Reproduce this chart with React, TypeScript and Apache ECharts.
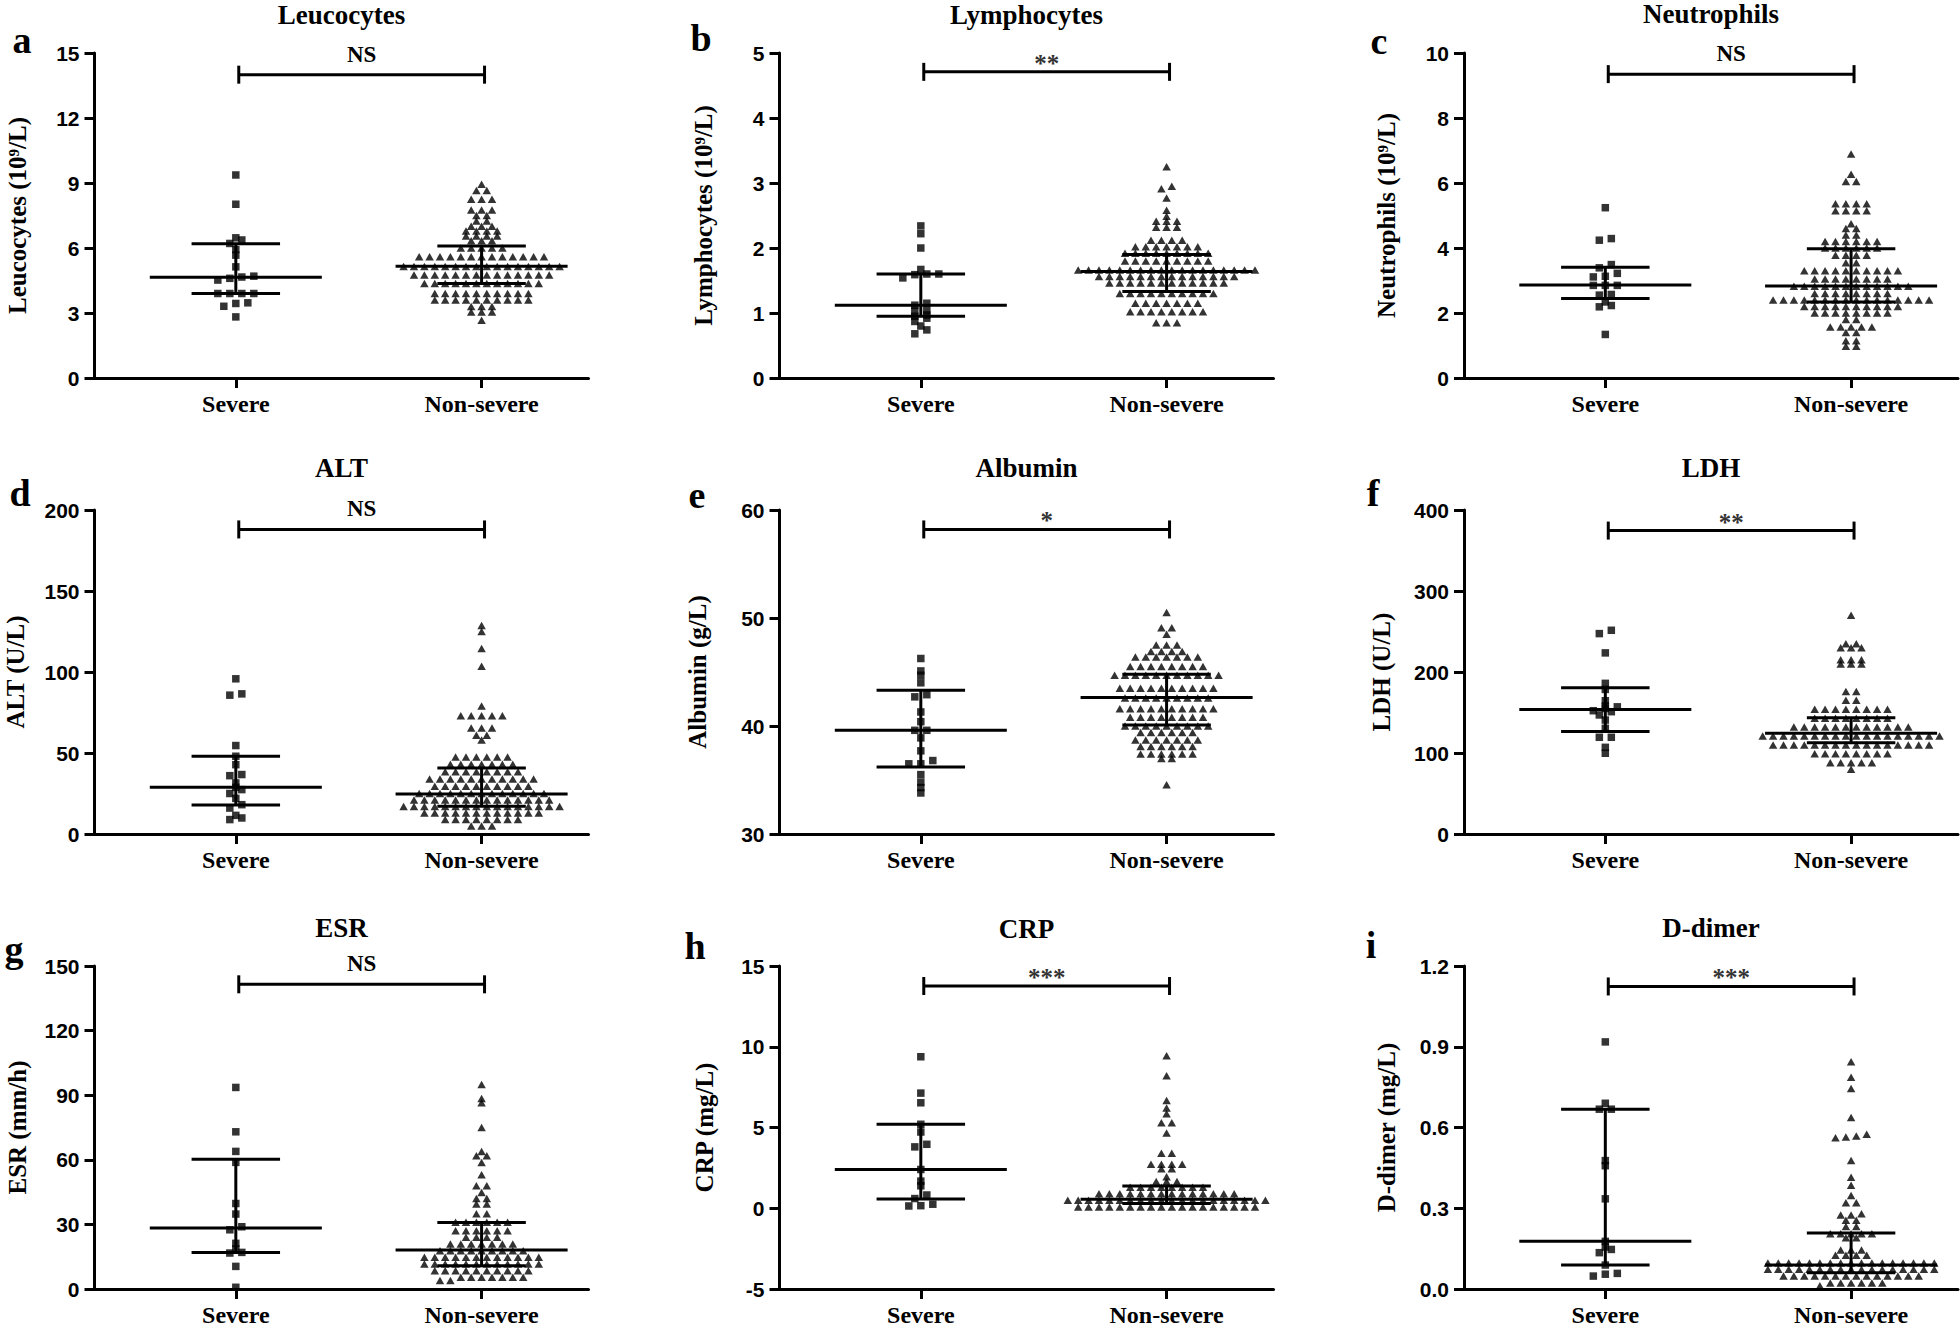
import React, { useEffect, useRef } from "react";
import * as echarts from "echarts";

// ---------- labels ----------
const categories = ["Severe", "Non-severe"];
const panelLetters = ["a", "b", "c", "d", "e", "f", "g", "h", "i"];
const panelTitles = ["Leucocytes", "Lymphocytes", "Neutrophils", "ALT", "Albumin", "LDH", "ESR", "CRP", "D-dimer"];
const axisNames = [
  "Leucocytes (10⁹/L)", "Lymphocytes (10⁹/L)", "Neutrophils (10⁹/L)",
  "ALT (U/L)", "Albumin (g/L)", "LDH (U/L)",
  "ESR (mm/h)", "CRP (mg/L)", "D-dimer (mg/L)",
];
const yMins = [0, 0, 0, 0, 30, 0, 0, -5, 0];
const yMaxs = [15, 5, 10, 200, 60, 400, 150, 15, 1.2];
const yIntervals = [3, 1, 2, 50, 10, 100, 30, 5, 0.3];
const yDecimals = [0, 0, 0, 0, 0, 0, 0, 0, 1];
const significance = ["NS", "**", "NS", "NS", "*", "**", "NS", "***", "***"];
const bracketLevels = [14, 4.71, 9.35, 188, 58.2, 374.6, 141.5, 13.76, 1.124];

// ---------- data: Severe ----------
const leucSevere = [9.37, 8.02, 6.47, 6.37, 6.21, 5.93, 5.67, 5.13, 4.7, 4.66, 4.6, 4.52, 3.9, 3.9, 3.9, 3.9, 3.47, 3.44, 3.31, 2.82];
const lymSevere = [2.34, 2.22, 2.0, 1.67, 1.6, 1.6, 1.59, 1.54, 1.15, 1.12, 1.04, 1.03, 0.97, 0.95, 0.92, 0.87, 0.8, 0.74, 0.68];
const neuSevere = [5.24, 4.29, 4.24, 3.49, 3.39, 3.22, 3.13, 3.11, 2.85, 2.85, 2.85, 2.57, 2.55, 2.34, 2.23, 2.19, 1.34];
const altSevere = [95.8, 86.5, 85.7, 54.6, 48, 42.8, 36.7, 36, 31.5, 28.8, 27.4, 25, 22, 18.1, 16, 11.5, 9.9, 8.9];
const albSevere = [46.25, 45.1, 44.7, 44.0, 42.9, 42.7, 41.3, 40.4, 39.6, 39.6, 38.9, 37.7, 36.8, 36.5, 36.5, 35.5, 34.8, 34.3, 33.8];
const ldhSevere = [251.5, 247.4, 223.6, 186, 178.5, 164.5, 158, 157, 155, 152.2, 151, 147, 140.7, 130.5, 119.4, 119.4, 107, 99.7];
const esrSevere = [93.6, 73, 63.9, 58.8, 39.7, 34.8, 28.9, 27.5, 21.2, 18.6, 17, 16.7, 10.5, 0.8];
const crpSevere = [9.38, 7.13, 6.53, 5.2, 4.72, 3.96, 3.8, 2.4, 1.68, 1.39, 0.82, 0.6, 0.25, 0.16, 0.14];
const ddSevere = [0.918, 0.69, 0.668, 0.668, 0.477, 0.458, 0.335, 0.177, 0.156, 0.147, 0.135, 0.089, 0.058, 0.055, 0.048];

// ---------- data: Non-severe ----------
const leucNonSevere = [
  8.94, 8.65, 8.65, 8.25, 8.25, 8.25, 7.75, 7.75, 7.75, 7.5, 7.5, 7.25, 7.25, 7.0, 7.0, 7.0,
  6.78, 6.78, 6.78, 6.78, 6.55, 6.55, 6.55, 6.55, 6.33, 6.33, 6.33, 6.0, 6.0, 6.0, 6.0, 6.0,
  5.6, 5.6, 5.6, 5.6, 5.6, 5.6, 5.6, 5.6, 5.6, 5.6, 5.6, 5.6, 5.6,
  5.15, 5.15, 5.15, 5.15, 5.15, 5.15, 5.15, 5.15, 5.15, 5.15, 5.15, 5.15, 5.15, 5.15, 5.15, 5.15,
  4.75, 4.75, 4.75, 4.75, 4.75, 4.75, 4.75, 4.75, 4.75, 4.75, 4.75, 4.75, 4.75, 4.75,
  4.36, 4.36, 4.36, 4.36, 4.36, 4.36, 4.36, 4.36, 4.36, 4.36, 4.36, 4.36,
  3.9, 3.9, 3.9, 3.9, 3.9, 3.9, 3.9, 3.9, 3.9, 3.9,
  3.6, 3.6, 3.6, 3.6, 3.6, 3.6, 3.6, 3.6, 3.6, 3.6,
  3.3, 3.3, 3.3, 3.05, 3.05, 3.05, 2.67,
];
const lymNonSevere = [
  3.25, 2.95, 2.91, 2.77, 2.58, 2.49, 2.41, 2.41, 2.41, 2.32, 2.32, 2.32, 2.12, 2.12, 2.12, 2.12,
  2.02, 2.02, 2.02, 2.02, 2.02, 2.02, 2.02,
  1.92, 1.92, 1.92, 1.92, 1.92, 1.92, 1.92, 1.92, 1.92,
  1.8, 1.8, 1.8, 1.8, 1.8, 1.8, 1.8, 1.8, 1.8,
  1.66, 1.66, 1.66, 1.66, 1.66, 1.66, 1.66, 1.66, 1.66, 1.66, 1.66, 1.66, 1.66, 1.66, 1.66, 1.66, 1.66, 1.66,
  1.56, 1.56, 1.56, 1.56, 1.56, 1.56, 1.56, 1.56, 1.56, 1.56, 1.56, 1.56, 1.56, 1.56,
  1.46, 1.46, 1.46, 1.46, 1.46, 1.46, 1.46, 1.46, 1.46, 1.46, 1.46, 1.46,
  1.3, 1.3, 1.3, 1.3, 1.3, 1.3, 1.3, 1.3, 1.3, 1.3,
  1.15, 1.15, 1.15, 1.15, 1.15, 1.15, 1.15,
  1.02, 1.02, 1.02, 1.02, 1.02, 1.02, 1.02, 1.02,
  0.85, 0.85, 0.85,
];
const neuNonSevere = [
  6.89, 6.27, 6.05, 6.05, 5.36, 5.36, 5.36, 5.36, 5.15, 5.15, 5.15, 5.15, 4.75, 4.6, 4.6, 4.4, 4.4,
  4.2, 4.2, 4.2, 4.2, 4.2, 4.2, 4.0, 4.0, 4.0, 4.0, 4.0, 4.0, 3.78, 3.78, 3.78, 3.78, 3.55, 3.55,
  3.3, 3.3, 3.3, 3.3, 3.3, 3.3, 3.3, 3.3, 3.3, 3.3,
  3.05, 3.05, 3.05, 3.05, 3.05, 3.05, 3.05, 3.05,
  2.82, 2.82, 2.82, 2.82, 2.82, 2.82, 2.82, 2.82, 2.82, 2.82, 2.82, 2.82,
  2.6, 2.6, 2.6, 2.6, 2.6, 2.6, 2.6, 2.6,
  2.4, 2.4, 2.4, 2.4, 2.4, 2.4, 2.4, 2.4, 2.4, 2.4, 2.4, 2.4, 2.4, 2.4, 2.4, 2.4,
  2.2, 2.2, 2.2, 2.2, 2.2, 2.2, 2.2, 2.2, 2.2, 2.2,
  2.0, 2.0, 2.0, 2.0, 2.0, 2.0, 2.0, 2.0,
  1.8, 1.8, 1.57, 1.57, 1.57, 1.57, 1.57, 1.4, 1.4, 1.15, 1.15, 0.98, 0.98,
];
const altNonSevere = [
  128.7, 125, 114.5, 103.6, 79, 73, 73, 73, 73, 73, 65.5, 65.5, 65.5, 61, 61, 58,
  47.5, 47.5, 47.5, 47.5, 47.5, 47.5, 43, 43, 43, 43, 43, 43, 43,
  38.5, 38.5, 38.5, 38.5, 38.5, 38.5, 38.5, 38.5,
  34, 34, 34, 34, 34, 34, 34, 34, 34, 34, 34,
  29.5, 29.5, 29.5, 29.5, 29.5, 29.5, 29.5, 29.5, 29.5, 29.5,
  25, 25, 25, 25, 25, 25, 25, 25, 25, 25, 25, 25, 25,
  21, 21, 21, 21, 21, 21, 21, 21, 21, 21, 21, 21, 21, 21,
  17, 17, 17, 17, 17, 17, 17, 17, 17, 17, 17, 17, 17, 17, 17, 17,
  13, 13, 13, 13, 13, 13, 13, 13, 13, 13, 13, 13,
  9, 9, 9, 9, 9, 9, 9, 9, 5, 5, 5,
];
const albNonSevere = [
  50.5, 49.1, 49.1, 48.5, 47.5, 47.5, 47.5, 46.9, 46.9, 46.9, 46.9,
  46.4, 46.4, 46.4, 46.4, 46.4, 46.4, 46.4,
  45.5, 45.5, 45.5, 45.5, 45.5, 45.5, 45.5, 45.5,
  44.7, 44.7, 44.7, 44.7, 44.7, 44.7, 44.7, 44.7, 44.7, 44.7, 44.7,
  43.5, 43.5, 43.5, 43.5, 43.5, 43.5, 43.5, 43.5, 43.5, 43.5,
  42.6, 42.6, 42.6, 42.6, 42.6, 42.6, 42.6, 42.6, 42.6,
  41.6, 41.6, 41.6, 41.6, 41.6, 41.6, 41.6, 41.6, 41.6, 41.6,
  40.8, 40.8, 40.8, 40.8, 40.8, 40.8, 40.8, 40.8,
  40.0, 40.0, 40.0, 40.0, 40.0, 40.0, 40.0, 40.0, 40.0,
  39.4, 39.4, 39.4, 39.4, 39.4, 39.4,
  38.7, 38.7, 38.7, 38.7, 38.7, 38.7, 38.7,
  38.1, 38.1, 38.1, 38.1, 38.1, 38.1,
  37.4, 37.4, 37.4, 37.4, 37.4, 37.4, 37.0, 37.0, 34.55,
];
const ldhNonSevere = [
  270, 235, 235, 230, 230, 230, 215, 215, 215, 210, 210, 210, 176, 176, 165, 165,
  154, 154, 154, 154, 154, 154, 154, 154,
  143, 143, 143, 143, 143, 143, 143, 143,
  132, 132, 132, 132, 132, 132, 132, 132, 132, 132, 132, 132,
  121, 121, 121, 121, 121, 121, 121, 121, 121, 121, 121, 121, 121, 121, 121, 121, 121, 121,
  110, 110, 110, 110, 110, 110, 110, 110, 110, 110, 110, 110, 110, 110, 110, 110,
  99, 99, 99, 99, 99, 99, 99, 99, 88, 88, 88, 88, 88, 80,
];
const esrNonSevere = [
  95, 88.5, 86.5, 75, 63.9, 61.9, 61.9, 58.8, 53, 48, 48, 44.8, 42, 42, 39.5, 39.5, 35, 35,
  31, 31, 31, 31, 31, 31, 27, 27, 27, 27, 27, 27, 24, 24, 24, 24,
  20.9, 20.9, 20.9, 20.9, 20.9, 20.9, 20.9,
  17.8, 17.8, 17.8, 17.8, 17.8, 17.8, 17.8, 17.8, 17.8,
  14.7, 14.7, 14.7, 14.7, 14.7, 14.7, 14.7, 14.7, 14.7, 14.7, 14.7, 14.7,
  11.6, 11.6, 11.6, 11.6, 11.6, 11.6, 11.6, 11.6, 11.6, 11.6, 11.6, 11.6,
  8.5, 8.5, 8.5, 8.5, 8.5, 8.5, 8.5, 8.5, 8.5, 8.5,
  5.4, 5.4, 5.4, 5.4, 5.4, 5.4, 5.4, 3.9, 3.9,
];
const crpNonSevere = [
  9.45, 8.2, 6.67, 6.2, 5.85, 5.3, 5.3, 4.66, 3.4, 3.4, 2.72, 2.72, 2.72, 2.72, 2.45, 2.45,
  1.95, 1.65, 1.65, 1.65, 1.3, 1.3, 1.3, 1.3, 1.3, 1.3, 1.3, 1.3,
  0.9, 0.9, 0.9, 0.9, 0.9, 0.9, 0.9, 0.9, 0.9, 0.9, 0.9, 0.9, 0.9, 0.9,
  0.5, 0.5, 0.5, 0.5, 0.5, 0.5, 0.5, 0.5, 0.5, 0.5, 0.5, 0.5, 0.5, 0.5, 0.5, 0.5, 0.5, 0.5, 0.5, 0.5,
  0.08, 0.08, 0.08, 0.08, 0.08, 0.08, 0.08, 0.08, 0.08, 0.08, 0.08, 0.08, 0.08, 0.08, 0.08, 0.08, 0.08, 0.08,
];
const ddNonSevere = [
  0.844, 0.787, 0.745, 0.637, 0.575, 0.568, 0.565, 0.562, 0.477, 0.415, 0.385, 0.347, 0.32, 0.32,
  0.28, 0.275, 0.275, 0.255, 0.255, 0.232, 0.232, 0.205, 0.205, 0.205, 0.205, 0.205, 0.19, 0.19,
  0.145, 0.145, 0.145, 0.125, 0.125, 0.125, 0.125,
  0.097, 0.097, 0.097, 0.097, 0.097, 0.097, 0.097, 0.097, 0.097, 0.097, 0.097, 0.097, 0.097, 0.097, 0.097, 0.097, 0.097,
  0.073, 0.073, 0.073, 0.073, 0.073, 0.073, 0.073, 0.073, 0.073, 0.073, 0.073, 0.073, 0.073, 0.073, 0.073, 0.073, 0.073,
  0.048, 0.048, 0.048, 0.048, 0.048, 0.048, 0.048, 0.048, 0.048, 0.048, 0.048, 0.048, 0.048, 0.048,
  0.022, 0.022, 0.022, 0.022, 0.022, 0.022, 0.012,
];

// ---------- median, Q1, Q3 ----------
const severeStats = [
  [4.65, 3.9, 6.2], [1.12, 0.95, 1.6], [2.86, 2.45, 3.41],
  [28.8, 17.9, 48], [39.6, 36.2, 43.3], [153.8, 126.4, 180.5],
  [28.3, 17, 60.2], [2.4, 0.57, 5.2], [0.177, 0.089, 0.668],
];
const nonSevereStats = [
  [5.16, 4.36, 6.09], [1.64, 1.33, 1.9], [2.83, 2.34, 3.98],
  [24.7, 17.1, 40.8], [42.65, 40.1, 44.8], [124.3, 112.8, 143.6],
  [18.1, 10.8, 30.9], [0.55, 0.3, 1.38], [0.089, 0.06, 0.208],
];

const severeSets = [leucSevere, lymSevere, neuSevere, altSevere, albSevere, ldhSevere, esrSevere, crpSevere, ddSevere];
const nonSevereSets = [leucNonSevere, lymNonSevere, neuNonSevere, altNonSevere, albNonSevere, ldhNonSevere, esrNonSevere, crpNonSevere, ddNonSevere];

// ---------- layout ----------
const colLeft = [94.5, 779.5, 1464];
const colWidth = [494, 494, 494];
const rowTop = [53, 510, 966];
const rowHeight = [325, 324, 325];
const X_MIN = 0.425;
const X_MAX = 2.435;
const nameGaps = [65, 64, 65, 67, 70, 70, 65, 63, 65];
const letterPos = [[22, 40], [701, 38], [1379, 41], [20, 493], [697, 495], [1373, 493], [14, 949], [695, 946], [1371, 945]];
const titleY = [15, 15, 14, 468, 468, 468, 928, 929, 928];

const SERIF = '"Liberation Serif", "Times New Roman", Times, serif';
const SANS = '"Liberation Sans", Arial, Helvetica, sans-serif';

// beeswarm: group values into rows (values within tol px) and centre each row
function swarm(vals: number[], center: number, pxPerX: number, pxPerY: number, step: number, tol: number) {
  const sorted = vals.slice().sort((p, q) => p - q);
  const out: number[][] = [];
  let i = 0;
  while (i < sorted.length) {
    const start = sorted[i];
    let j = i;
    while (j < sorted.length && (sorted[j] - start) * pxPerY <= tol) j++;
    const n = j - i;
    for (let k = 0; k < n; k++) {
      const off = (k - (n - 1) / 2) * step;
      out.push([center + off / pxPerX, sorted[i + k]]);
    }
    i = j;
  }
  return out;
}

function statsRender(params: any, api: any) {
  const c = api.value(0);
  const m = api.value(1);
  const lo = api.value(2);
  const hi = api.value(3);
  const seg = (x1: number, y1: number, x2: number, y2: number) => {
    const a = api.coord([x1, y1]);
    const b = api.coord([x2, y2]);
    return { type: "line", shape: { x1: a[0], y1: a[1], x2: b[0], y2: b[1] }, style: { stroke: "#000", lineWidth: 3 } };
  };
  return {
    type: "group",
    children: [
      seg(c - 0.35, m, c + 0.35, m),
      seg(c - 0.18, lo, c + 0.18, lo),
      seg(c - 0.18, hi, c + 0.18, hi),
      seg(c, lo, c, hi),
    ],
  };
}

function makeBracketRender(sig: string) {
  return (params: any, api: any) => {
    const lvl = api.value(1);
    const a = api.coord([1.012, lvl]);
    const b = api.coord([2.012, lvl]);
    const st = { stroke: "#000", lineWidth: 3 };
    const stars = sig.charAt(0) === "*";
    return {
      type: "group",
      children: [
        { type: "line", shape: { x1: a[0], y1: a[1], x2: b[0], y2: b[1] }, style: st },
        { type: "line", shape: { x1: a[0], y1: a[1] - 9, x2: a[0], y2: a[1] + 9 }, style: st },
        { type: "line", shape: { x1: b[0], y1: b[1] - 9, x2: b[0], y2: b[1] + 9 }, style: st },
        {
          type: "text",
          x: (a[0] + b[0]) / 2,
          y: stars ? a[1] + 4 : a[1] - 9,
          style: {
            text: sig,
            fill: stars ? "#333" : "#000",
            font: stars ? `bold 25px ${SERIF}` : `bold 23px ${SERIF}`,
            align: "center",
            verticalAlign: "bottom",
            textAlign: "center",
            textVerticalAlign: "bottom",
          },
        },
      ],
    };
  };
}

function buildOption() {
  const grids: any[] = [];
  const xAxes: any[] = [];
  const yAxes: any[] = [];
  const series: any[] = [];
  const graphics: any[] = [];

  for (let i = 0; i < 9; i++) {
    const col = i % 3;
    const row = Math.floor(i / 3);
    const pxPerX = colWidth[col] / (X_MAX - X_MIN);
    const pxPerY = rowHeight[row] / (yMaxs[i] - yMins[i]);
    grids.push({ left: colLeft[col], top: rowTop[row], width: colWidth[col], height: rowHeight[row] });

    xAxes.push({
      gridIndex: i,
      type: "value",
      min: X_MIN,
      max: X_MAX,
      axisLine: { show: true, onZero: false, lineStyle: { color: "#000", width: 3 } },
      axisTick: { show: true, customValues: [1, 2], length: 10, lineStyle: { color: "#000", width: 3 } },
      axisLabel: {
        show: true,
        customValues: [1, 2],
        formatter: (v: number) => categories[Math.round(v) - 1] || "",
        margin: 14,
        color: "#000",
        fontFamily: SERIF,
        fontWeight: "bold",
        fontSize: 24,
      },
      splitLine: { show: false },
    });

    const dec = yDecimals[i];
    yAxes.push({
      gridIndex: i,
      type: "value",
      min: yMins[i],
      max: yMaxs[i],
      interval: yIntervals[i],
      name: axisNames[i],
      nameLocation: "middle",
      nameGap: nameGaps[i],
      nameRotate: 90,
      nameTextStyle: { fontFamily: SERIF, fontWeight: "bold", fontSize: 25, color: "#000" },
      axisLine: { show: true, onZero: false, lineStyle: { color: "#000", width: 3 } },
      axisTick: { show: true, length: 10, lineStyle: { color: "#000", width: 3 } },
      axisLabel: {
        margin: 15,
        color: "#000",
        fontFamily: SANS,
        fontWeight: "bold",
        fontSize: 21,
        formatter: (v: number) => (dec > 0 ? v.toFixed(dec) : String(Math.round(v))),
      },
      splitLine: { show: false },
    });

    series.push({
      type: "scatter",
      xAxisIndex: i,
      yAxisIndex: i,
      symbol: "rect",
      symbolSize: 7.5,
      itemStyle: { color: "#000" },
      silent: true,
      z: 2,
      data: swarm(severeSets[i], 1, pxPerX, pxPerY, 12, 4),
    });
    series.push({
      type: "scatter",
      xAxisIndex: i,
      yAxisIndex: i,
      symbol: "triangle",
      symbolSize: [8.5, 7.5],
      itemStyle: { color: "#000" },
      silent: true,
      z: 2,
      data: swarm(nonSevereSets[i], 2, pxPerX, pxPerY, 10.4, 4),
    });
    series.push({
      type: "custom",
      xAxisIndex: i,
      yAxisIndex: i,
      renderItem: statsRender,
      encode: { x: 0, y: 1 },
      clip: false,
      silent: true,
      z: 4,
      data: [[1, ...severeStats[i]], [2, ...nonSevereStats[i]]],
    });
    series.push({
      type: "custom",
      xAxisIndex: i,
      yAxisIndex: i,
      renderItem: makeBracketRender(significance[i]),
      encode: { x: 0, y: 1 },
      clip: false,
      silent: true,
      z: 4,
      data: [[1.5, bracketLevels[i]]],
    });

    graphics.push({
      type: "text",
      x: colLeft[col] + colWidth[col] / 2,
      y: titleY[i],
      style: {
        text: panelTitles[i],
        fill: "#000",
        font: `bold 27px ${SERIF}`,
        align: "center",
        verticalAlign: "middle",
        textAlign: "center",
        textVerticalAlign: "middle",
      },
    });
    graphics.push({
      type: "text",
      x: letterPos[i][0],
      y: letterPos[i][1],
      style: {
        text: panelLetters[i],
        fill: "#000",
        font: `bold 38px ${SERIF}`,
        align: "center",
        verticalAlign: "middle",
        textAlign: "center",
        textVerticalAlign: "middle",
      },
    });
  }

  return {
    animation: false,
    backgroundColor: "#fff",
    grid: grids,
    xAxis: xAxes,
    yAxis: yAxes,
    series,
    graphic: graphics,
  };
}

export default function App() {
  const ref = useRef<HTMLDivElement>(null);
  useEffect(() => {
    if (!ref.current) return;
    const chart = echarts.init(ref.current, null, { renderer: "svg" });
    chart.setOption(buildOption() as any);
    return () => chart.dispose();
  }, []);
  return (
    <div
      ref={ref}
      style={{ position: "absolute", left: 0, top: 0, width: 1960, height: 1327, background: "#fff" }}
    />
  );
}
